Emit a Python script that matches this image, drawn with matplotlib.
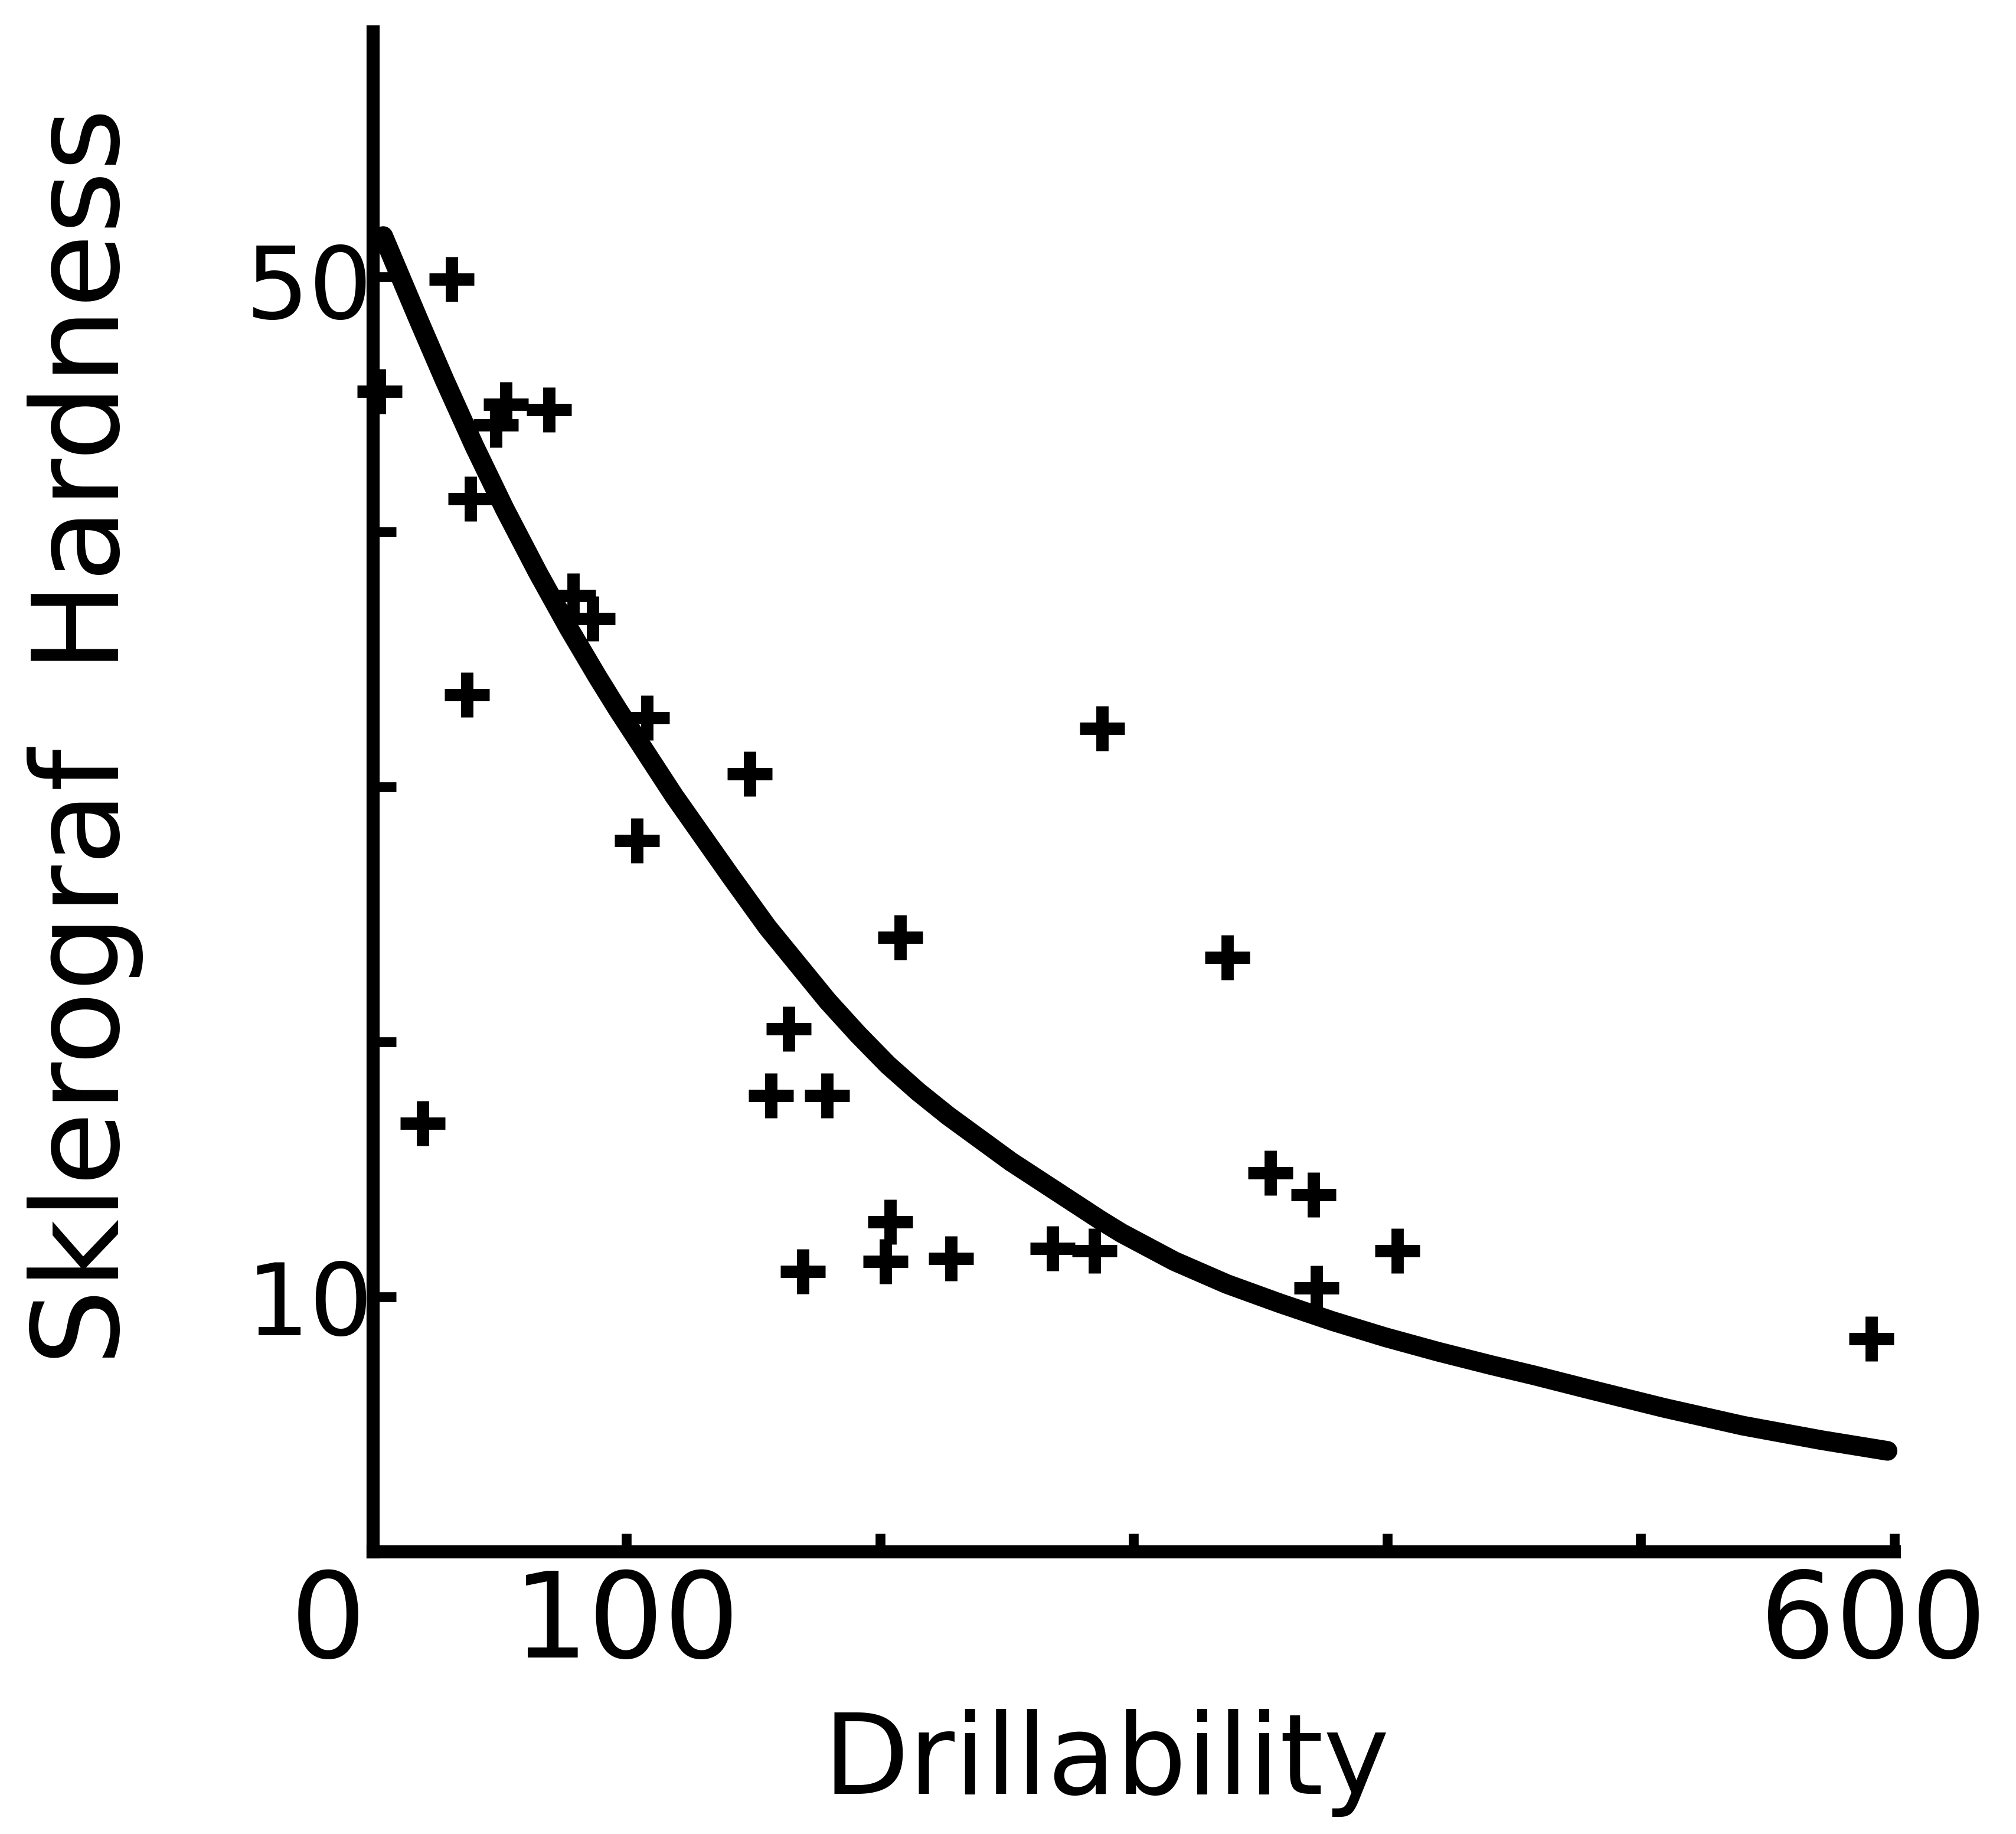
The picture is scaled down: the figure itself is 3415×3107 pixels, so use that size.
import matplotlib
matplotlib.use("Agg")
import matplotlib.pyplot as plt
import matplotlib.transforms as mtrans

# ---- data ----
drillability = [31, 2.5, 52.5, 69.5, 48.5, 38.5, 79, 86.5, 37, 108, 148.5, 104,
                208, 337, 287.5, 164, 157, 179, 19.5, 354, 371, 404, 372, 169.5,
                204, 202, 228, 268, 284.5, 591]
hardness = [49.9, 45.5, 45.0, 44.8, 44.2, 41.3, 37.5, 36.6, 33.6, 32.7, 30.5, 27.9,
            24.1, 23.3, 32.3, 20.5, 17.9, 17.9, 16.8, 14.85, 14.0, 11.8, 10.35, 11.0,
            12.95, 11.4, 11.5, 11.9, 11.8, 8.35]

# fitted curve
curve_x = [4, 18, 28.2, 40, 51.9, 65, 77, 88.6, 96.4, 118.7, 141, 155.5, 179.3,
           191.2, 203, 214.9, 226.8, 251.6, 287, 295.2, 316, 336.8, 357.6, 378.4,
           399.1, 420, 440.7, 458, 477.8, 509, 540.2, 571.3, 597.3]
curve_y = [51.6, 48.3, 45.95, 43.35, 40.9, 38.4, 36.25, 34.3, 33.05, 29.65, 26.5, 24.5, 21.6,
           20.3, 19.1, 18.05, 17.1, 15.3, 13.0, 12.5, 11.4, 10.5, 9.75, 9.05,
           8.42, 7.85, 7.33, 6.92, 6.42, 5.65, 4.95, 4.38, 3.96]

x_ticks = [0, 100, 200, 300, 400, 500, 600]
x_ticklabels = ["0", "100", "", "", "", "", "600"]
y_ticks = [0, 10, 20, 30, 40, 50]
y_ticklabels = ["", "10", "", "", "", "50"]

fig = plt.figure(figsize=(34.16, 31.07), dpi=100)
ax = fig.add_axes([0.18501, 0.15384, 0.75439, 0.83425])
ax.set_xlim(0, 600)
ax.set_ylim(0, 60)

for s in ["top", "right"]:
    ax.spines[s].set_visible(False)
for s in ["left", "bottom"]:
    ax.spines[s].set_linewidth(16)
    ax.spines[s].set_capstyle("projecting")
ax.spines["left"].set_bounds(0, 59.6)

ax.plot(curve_x, curve_y, color="black", lw=24, solid_capstyle="round",
        solid_joinstyle="round", clip_on=False, zorder=3)
ax.plot(drillability, hardness, ls="none", marker="+", ms=55, mew=15,
        color="black", clip_on=False, zorder=4)

ax.set_xticks(x_ticks)
ax.set_xticklabels(x_ticklabels)
ax.set_yticks(y_ticks)
ax.set_yticklabels(y_ticklabels)
ax.tick_params(axis="x", direction="in", length=22, width=12, labelsize=145, pad=19)
ax.tick_params(axis="y", direction="in", length=28, width=12, labelsize=122, pad=0)

# the reference places "0" well left of the origin and "600" slightly left of its tick
xl = ax.get_xticklabels()
xl[0].set_transform(xl[0].get_transform() + mtrans.ScaledTranslation(-0.76, 0, fig.dpi_scale_trans))
xl[6].set_transform(xl[6].get_transform() + mtrans.ScaledTranslation(-0.36, 0, fig.dpi_scale_trans))
yl = ax.get_yticklabels()
yl[5].set_transform(yl[5].get_transform() + mtrans.ScaledTranslation(0, -0.06, fig.dpi_scale_trans))

ax.text(0.482, -0.158, "Drillability", transform=ax.transAxes, ha="center",
        va="baseline", fontsize=136)
ax.text(-0.189, 0.533, "Sklerograf  Hardness", transform=ax.transAxes, ha="center",
        va="center", rotation=90, fontsize=147)

fig.savefig("out.png", dpi=100)
